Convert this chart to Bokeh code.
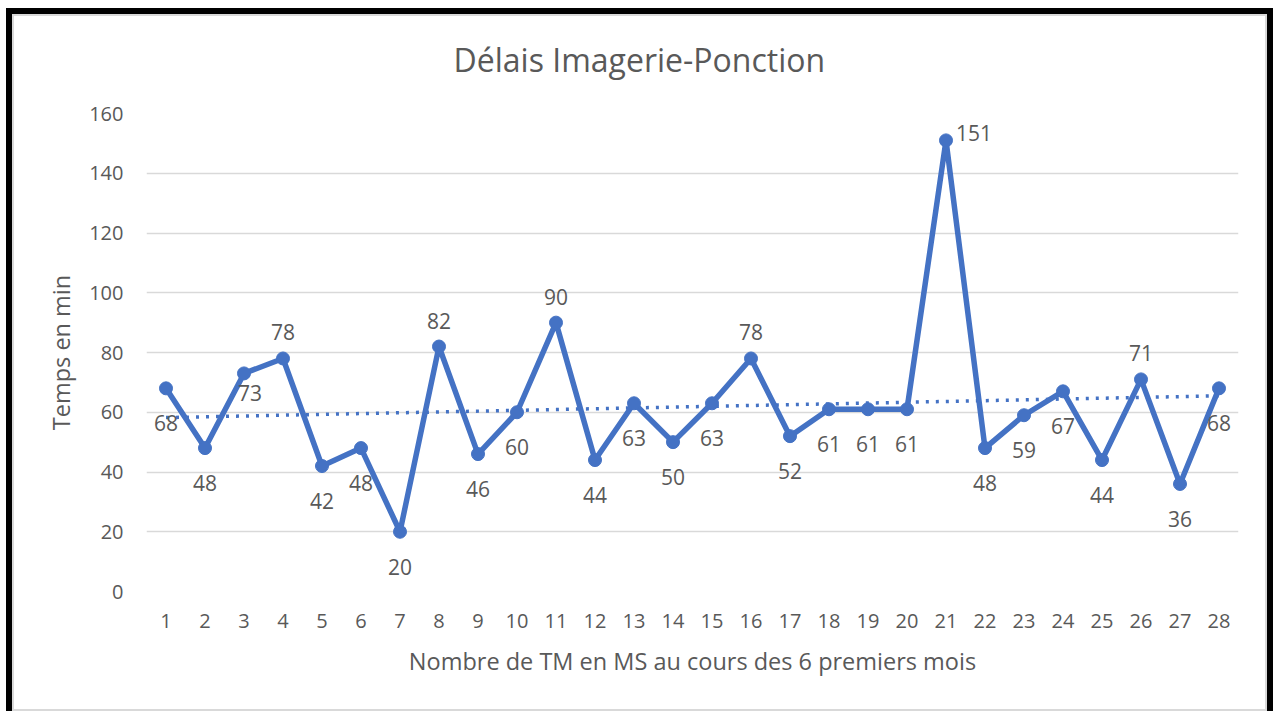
import numpy as np
from bokeh.plotting import figure
from bokeh.models import ColumnDataSource, FactorRange, Range1d, FixedTicker, InlineStyleSheet
from bokeh.core.properties import value
from bokeh.embed import file_html
from bokeh.resources import INLINE

# ---- data ----
categories = ["1", "2", "3", "4", "5", "6", "7", "8", "9", "10", "11", "12", "13", "14",
              "15", "16", "17", "18", "19", "20", "21", "22", "23", "24", "25", "26", "27", "28"]
delais = [68, 48, 73, 78, 42, 48, 20, 82, 46, 60, 90, 44, 63, 50,
          63, 78, 52, 61, 61, 61, 151, 48, 59, 67, 44, 71, 36, 68]
y_ticks = [0, 20, 40, 60, 80, 100, 120, 140, 160]

title_text = "Délais Imagerie-Ponction"
x_title = "Nombre de TM en MS au cours des 6 premiers mois"
y_title = "Temps en min"

# ---- label placement (style) ----
label_side = ["below", "below", "below_right", "above", "below", "below", "below", "above",
              "below", "below", "above", "below", "below", "below", "below", "above",
              "below", "below", "below", "below", "right", "below", "below", "below",
              "below", "above", "below", "below"]
side_style = {
    "below": (0, 35, "center"),
    "above": (0, -26, "center"),
    "below_right": (6, 20, "center"),
    "right": (10, -7, "left"),
}

BLUE = "#4472C4"
GREY_TXT = "#595959"
FONT = "Open Sans"

src = ColumnDataSource(dict(
    cat=categories,
    val=delais,
    lbl=[str(v) for v in delais],
    dx=[side_style[s][0] for s in label_side],
    dy=[side_style[s][1] for s in label_side],
    align=[side_style[s][2] for s in label_side],
))

p = figure(x_range=FactorRange(*categories), y_range=Range1d(0, 160),
           width=1267, height=709, output_backend="svg", toolbar_location=None,
           min_border_left=140, min_border_right=35, min_border_top=111, min_border_bottom=120)
p.styles = {"margin-left": "6px", "margin-top": "2px"}
frame_css = """
:host { position: relative; }
:host::after {
  content: "";
  position: absolute;
  left: 0; right: 0; top: 6px; bottom: 0;
  border: 6px solid black;
  border-bottom: none;
  box-shadow: inset 0 0 0 2px #d9d9d9;
  pointer-events: none;
  z-index: 100;
}
"""
p.stylesheets = [InlineStyleSheet(css=frame_css)]
p.outline_line_color = None
p.background_fill_color = "white"
p.border_fill_color = "white"

# title
p.title.text = title_text
p.title.align = "left"
p.title.offset = 307
p.title.standoff = 66
p.title.text_font = FONT
p.title.text_font_size = "32px"
p.title.text_font_style = "normal"
p.title.text_color = GREY_TXT

# grid
p.xgrid.grid_line_color = None
p.ygrid.ticker = FixedTicker(ticks=y_ticks)
p.ygrid.grid_line_color = "#d9d9d9"
p.ygrid.grid_line_width = 1.5

# axes
for ax in (p.xaxis[0], p.yaxis[0]):
    ax.axis_line_color = None
    ax.major_tick_line_color = None
    ax.minor_tick_line_color = None
    ax.major_label_text_font = FONT
    ax.major_label_text_font_size = "20px"
    ax.major_label_text_color = GREY_TXT
    ax.axis_label_text_font = FONT
    ax.axis_label_text_font_size = "23.5px"
    ax.axis_label_text_font_style = "normal"
    ax.axis_label_text_color = GREY_TXT

p.yaxis.ticker = FixedTicker(ticks=y_ticks)
p.yaxis.major_label_standoff = 17
p.yaxis.axis_label = y_title
p.yaxis.axis_label_standoff = 9
p.xaxis.major_label_standoff = 16
p.xaxis.axis_label = x_title
p.xaxis.axis_label_standoff = 14

# trendline (linear fit)
xs = np.arange(1, len(delais) + 1)
slope, intercept = np.polyfit(xs, delais, 1)
p.line(x=[categories[0], categories[-1]],
       y=[slope * xs[0] + intercept, slope * xs[-1] + intercept],
       line_color=BLUE, line_width=3.5, line_dash="3 7")

# series
p.line(x="cat", y="val", source=src, line_color=BLUE, line_width=5.5, line_join="round")
p.scatter(x="cat", y="val", source=src, size=13, fill_color=BLUE, line_color=BLUE)

# data labels
p.text(x="cat", y="val", text="lbl", source=src, x_offset="dx", y_offset="dy",
       text_align="align", text_baseline="middle",
       text_font=value(FONT), text_font_size=value("21px"), text_color=GREY_TXT)

open("out.html", "w").write(file_html(p, INLINE))
